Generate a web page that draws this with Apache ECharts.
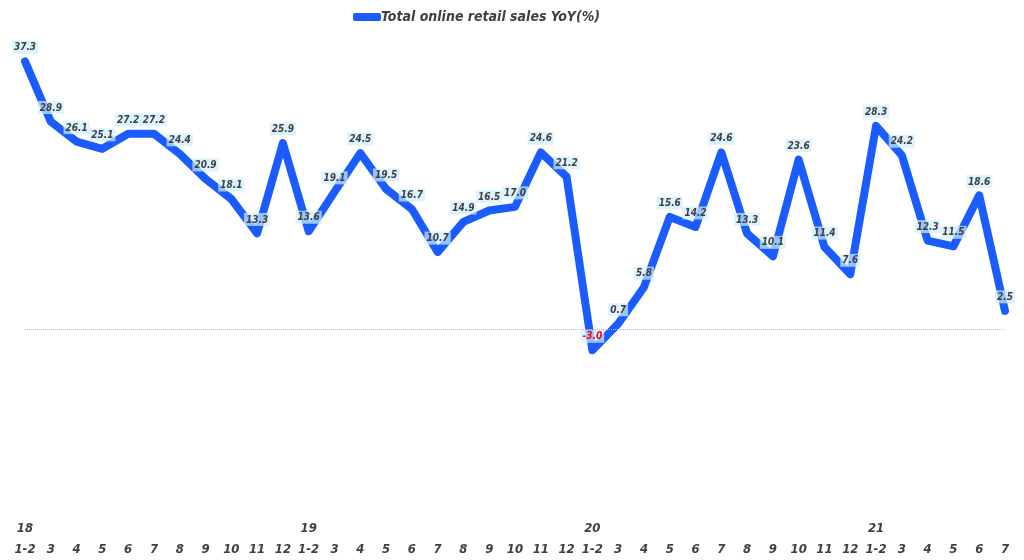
<!DOCTYPE html>
<html>
<head>
<meta charset="utf-8">
<script src="https://cdn.jsdelivr.net/npm/echarts@6/dist/echarts.min.js"></script>
<style>html,body{margin:0;padding:0;background:#fff}#c{width:1024px;height:560px}</style>
</head>
<body>
<div id="c"></div>
<script>
var months = ['1-2','3','4','5','6','7','8','9','10','11','12',
              '1-2','3','4','5','6','7','8','9','10','11','12',
              '1-2','3','4','5','6','7','8','9','10','11','12',
              '1-2','3','4','5','6','7'];
var years = ['18','19','20','21'];
var yoy = [37.3, 28.9, 26.1, 25.1, 27.2, 27.2, 24.4, 20.9, 18.1, 13.3, 25.9,
           13.6, 19.1, 24.5, 19.5, 16.7, 10.7, 14.9, 16.5, 17.0, 24.6, 21.2,
           -3.0, 0.7, 5.8, 15.6, 14.2, 24.6, 13.3, 10.1, 23.6, 11.4, 7.6,
           28.3, 24.2, 12.3, 11.5, 18.6, 2.5];
var seriesName = 'Total online retail sales YoY(%)';

var yi = 0;
var categories = months.map(function (m) {
  var y = (m === '1-2') ? years[yi++] : ' ';
  return y + '\n' + m;
});

var txt = '#404040';
var font = "'DejaVu Sans Condensed', 'DejaVu Sans'";
var chart = echarts.init(document.getElementById('c'));
chart.setOption({
  animation: false,
  backgroundColor: '#ffffff',
  legend: {
    top: 5,
    left: 348,
    itemWidth: 28,
    itemHeight: 8,
    icon: 'roundRect',
    itemGap: 0,
    textStyle: {color: txt, fontSize: 14, fontWeight: 'bold', fontStyle: 'italic', fontFamily: font, padding: [0, 0, 0, -5]},
    data: [seriesName]
  },
  grid: {left: 25, right: 19, top: 42, bottom: 50},
  xAxis: {
    type: 'category',
    data: categories,
    boundaryGap: false,
    position: 'bottom',
    axisLine: {show: false, onZero: false},
    axisTick: {show: false},
    axisLabel: {
      interval: 0,
      margin: 10,
      color: txt,
      fontSize: 13,
      fontWeight: 'bold',
      fontStyle: 'italic',
      fontFamily: font,
      lineHeight: 21
    },
    splitLine: {show: false}
  },
  yAxis: {
    type: 'value',
    min: -25,
    max: 40,
    interval: 5,
    axisLine: {show: false},
    axisTick: {show: false},
    axisLabel: {show: false},
    splitLine: {show: false}
  },
  series: [{
    name: seriesName,
    type: 'line',
    data: yoy,
    symbol: 'circle',
    symbolSize: 1,
    showSymbol: true,
    color: '#1a5cff',
    itemStyle: {color: '#1a5cff'},
    lineStyle: {width: 8, color: '#1a5cff', cap: 'round', join: 'round'},
    label: {
      show: true,
      position: 'top',
      distance: 7,
      fontSize: 10,
      fontWeight: 'bold',
      fontStyle: 'italic',
      fontFamily: font,
      color: txt,
      backgroundColor: 'rgba(205,240,255,0.7)',
      padding: [2, 2, 1, 2],
      formatter: function (p) {
        var v = p.value.toFixed(1);
        return p.value < 0 ? '{neg|' + v + '}' : v;
      },
      rich: {
        neg: {color: '#ff0000', fontSize: 10, fontWeight: 'bold', fontStyle: 'italic', fontFamily: font}
      }
    },
    labelLayout: {hideOverlap: false},
    markLine: {
      silent: true,
      symbol: 'none',
      label: {show: false},
      lineStyle: {color: '#b8b0ff', type: 'dotted', width: 1},
      data: [{yAxis: 0}]
    },
    z: 3
  }]
});
</script>
</body>
</html>
